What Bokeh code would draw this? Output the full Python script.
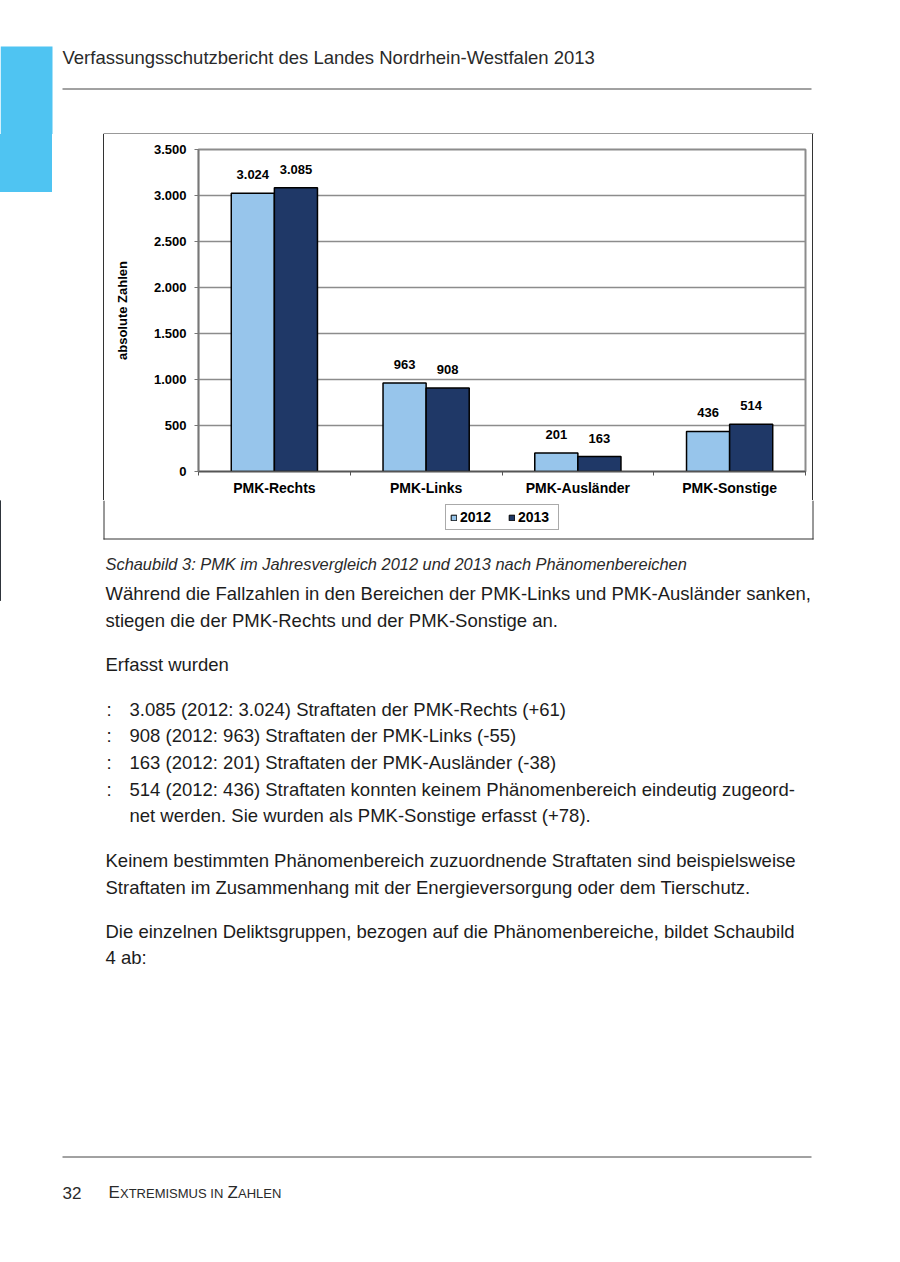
from bokeh.plotting import figure
from bokeh.layouts import column
from bokeh.models import (Range1d, LinearAxis, FixedTicker, ColumnDataSource,
                          LabelSet, Legend, LegendItem)
from bokeh.transform import dodge
from bokeh.core.properties import value
from bokeh.embed import file_html
from bokeh.resources import INLINE

# ---------------- data ----------------
categories = ["PMK-Rechts", "PMK-Links", "PMK-Ausländer", "PMK-Sonstige"]
years = ["2012", "2013"]
values_2012 = [3024, 963, 201, 436]
values_2013 = [3085, 908, 163, 514]
y_ticks = [0, 500, 1000, 1500, 2000, 2500, 3000, 3500]
y_tick_labels = ["0", "500", "1.000", "1.500", "2.000", "2.500", "3.000", "3.500"]
y_axis_title = "absolute Zahlen"

header_text = "Verfassungsschutzbericht des Landes Nordrhein-Westfalen 2013"
caption_text = "Schaubild 3: PMK im Jahresvergleich 2012 und 2013 nach Phänomenbereichen"
body_lines = [
    "Während die Fallzahlen in den Bereichen der PMK-Links und PMK-Ausländer sanken,",
    "stiegen die der PMK-Rechts und der PMK-Sonstige an.",
    "Erfasst wurden",
    "Keinem bestimmten Phänomenbereich zuzuordnende Straftaten sind beispielsweise",
    "Straftaten im Zusammenhang mit der Energieversorgung oder dem Tierschutz.",
    "Die einzelnen Deliktsgruppen, bezogen auf die Phänomenbereiche, bildet Schaubild",
    "4 ab:",
]
body_y = [593, 620, 664, 860, 887, 931, 957]
bullet_marks = [":", ":", ":", ":", ""]
bullet_lines = [
    "3.085 (2012: 3.024) Straftaten der PMK-Rechts (+61)",
    "908 (2012: 963) Straftaten der PMK-Links (-55)",
    "163 (2012: 201) Straftaten der PMK-Ausländer (-38)",
    "514 (2012: 436) Straftaten konnten keinem Phänomenbereich eindeutig zugeord-",
    "net werden. Sie wurden als PMK-Sonstige erfasst (+78).",
]
bullet_y = [709, 735, 762, 789, 815]
page_number = "32"
running_title = [("E", 17), ("XTREMISMUS IN", 13), ("Z", 17), ("AHLEN", 13)]


def de(n):
    return f"{n:,}".replace(",", ".")


# ---------------- page geometry (pixels) ----------------
PW, PH = 900, 1262
BOX_L, BOX_R, BOX_T, BOX_B = 104, 812, 134, 538      # chart border box
FL, FR, FT, FB = 198, 805, 149, 471                  # chart plot area
SPLIT = 500                                          # chart figure ends here
TAB_R, TAB_T, TAB_B = 52, 46, 192                    # blue page tab
LEG_L, LEG_B = 445, 530                              # legend box position

FONT = "Liberation Sans"
C_LIGHT = "#97C5EB"
C_DARK = "#1F3867"
GRID = "#8C8C8C"
TAB = "#4FC4F2"
INK = "#1c1c1c"
EDGE = "#333333"


def no_align(f):
    try:
        f.frame_align = False
    except Exception:
        pass
    return f


def page_fig(x0, x1, y0, y1):
    f = figure(width=x1 - x0, height=y1 - y0, output_backend="svg", toolbar_location=None,
               x_range=Range1d(x0, x1), y_range=Range1d(y1, y0),
               x_axis_location=None, y_axis_location=None, min_border=0,
               background_fill_color="white", border_fill_color="white")
    f.outline_line_color = None
    f.xgrid.visible = False
    f.ygrid.visible = False
    return no_align(f)


def put_text(f, xs, ys, texts, size="18.5px", style="normal", color=INK):
    f.text(x=xs, y=ys, text=texts, text_font=value(FONT), text_font_size=value(size),
           text_font_style=style, text_color=color, text_baseline="middle", text_align="left")


# ---- header strip ----
head = page_fig(0, PW, 0, BOX_T)
head.quad(left=[0], right=[TAB_R], top=[TAB_T], bottom=[BOX_T], fill_color=TAB, line_color=None)
put_text(head, [62], [57], [header_text], color="#2a2a2a")
head.segment(x0=[62], y0=[88.5], x1=[811], y1=[88.5], line_color="#444444", line_width=1)
head.segment(x0=[BOX_L - 1], y0=[BOX_T - 0.5], x1=[BOX_R + 1], y1=[BOX_T - 0.5],
             line_color=EDGE, line_width=1)

# ---- the chart (full page width; its border area shows the page tab and box sides) ----
n = len(categories)
slot = list(range(n))
centers = [i + 0.5 for i in slot]
mid_h = SPLIT - BOX_T

page_bg = {
    "background-color": "white",
    "background-image": f"linear-gradient({TAB},{TAB}), linear-gradient({EDGE},{EDGE}), "
                        f"linear-gradient({EDGE},{EDGE})",
    "background-size": f"{TAB_R}px {TAB_B - BOX_T}px, 1px {mid_h}px, 1px {mid_h}px",
    "background-position": f"0px 0px, {BOX_L - 1}px 0px, {BOX_R}px 0px",
    "background-repeat": "no-repeat",
}

p = figure(width=PW, height=mid_h, output_backend="svg", toolbar_location=None,
           x_range=Range1d(0, n), y_range=Range1d(0, 3500),
           x_axis_location=None, y_axis_location=None,
           min_border_left=FL, min_border_right=PW - FR,
           min_border_top=FT - BOX_T, min_border_bottom=SPLIT - FB,
           background_fill_color="white", border_fill_alpha=0, styles=page_bg)
no_align(p)
p.outline_line_color = GRID
p.outline_line_width = 2
p.xgrid.grid_line_color = None
p.ygrid.ticker = FixedTicker(ticks=y_ticks)
p.ygrid.grid_line_color = GRID
p.ygrid.grid_line_width = 1.5

yaxis = LinearAxis(ticker=FixedTicker(ticks=y_ticks),
                   major_label_overrides=dict(zip(y_ticks, y_tick_labels)),
                   axis_label=y_axis_title)
yaxis.axis_line_color = "#777777"
yaxis.axis_line_width = 1.5
yaxis.major_tick_line_color = "#777777"
yaxis.major_tick_out = 4
yaxis.major_tick_in = 0
yaxis.minor_tick_line_color = None
yaxis.major_label_standoff = 8
yaxis.major_label_text_font = FONT
yaxis.major_label_text_font_style = "bold"
yaxis.major_label_text_font_size = "13px"
yaxis.major_label_text_color = "black"
yaxis.axis_label_text_font = FONT
yaxis.axis_label_text_font_style = "bold"
yaxis.axis_label_text_font_size = "13px"
yaxis.axis_label_text_color = "black"
yaxis.axis_label_standoff = 21
p.add_layout(yaxis, "left")

xaxis = LinearAxis(ticker=FixedTicker(ticks=centers, minor_ticks=slot + [n]),
                   major_label_overrides=dict(zip(centers, categories)))
xaxis.axis_line_color = "#555555"
xaxis.axis_line_width = 1.5
xaxis.major_tick_line_color = None
xaxis.major_tick_out = 0
xaxis.major_tick_in = 0
xaxis.minor_tick_line_color = "#555555"
xaxis.minor_tick_out = 4
xaxis.minor_tick_in = 0
xaxis.major_label_standoff = 4
xaxis.major_label_text_font = FONT
xaxis.major_label_text_font_style = "bold"
xaxis.major_label_text_font_size = "14px"
xaxis.major_label_text_color = "black"
p.add_layout(xaxis, "below")

src = ColumnDataSource(dict(x=centers, cat=categories, v2012=values_2012, v2013=values_2013,
                            l2012=[de(v) for v in values_2012],
                            l2013=[de(v) for v in values_2013]))
BW = 0.284
p.vbar(x=dodge("x", -BW / 2), top="v2012", width=BW, source=src,
       fill_color=C_LIGHT, line_color="black", line_width=1.5)
p.vbar(x=dodge("x", BW / 2), top="v2013", width=BW, source=src,
       fill_color=C_DARK, line_color="black", line_width=1.5)

for off, col in ((-BW / 2, "2012"), (BW / 2, "2013")):
    p.add_layout(LabelSet(x=dodge("x", off), y="v" + col, text="l" + col,
                          source=src, text_align="center", text_baseline="bottom", y_offset=14,
                          text_font=value(FONT), text_font_style="bold",
                          text_font_size="13px", text_color="black"))

# ---- lower part of the chart box, legend and text below the chart ----
body = page_fig(0, PW, SPLIT, PH)
body.segment(x0=[BOX_L - 0.5, BOX_R + 0.5], y0=[SPLIT, SPLIT],
             x1=[BOX_L - 0.5, BOX_R + 0.5], y1=[BOX_B + 1, BOX_B + 1],
             line_color=EDGE, line_width=1)
body.segment(x0=[BOX_L - 1], y0=[BOX_B + 0.5], x1=[BOX_R + 1], y1=[BOX_B + 0.5],
             line_color=EDGE, line_width=1)

# legend keys: one off-page sample each, only used to draw the legend swatches
key1 = body.vbar(x=[-100], top=[600], width=1, fill_color=C_LIGHT, line_color="black",
                 line_width=1)
key2 = body.vbar(x=[-100], top=[600], width=1, fill_color=C_DARK, line_color="black",
                 line_width=1)
legend = Legend(items=[LegendItem(label=years[0], renderers=[key1]),
                       LegendItem(label=years[1], renderers=[key2])],
                location=(LEG_L, PH - LEG_B), orientation="horizontal",
                glyph_width=7, glyph_height=7, label_standoff=3, spacing=12,
                padding=4, margin=0, label_height=14, label_width=36,
                label_text_font=FONT, label_text_font_style="bold",
                label_text_font_size="14px", label_text_color="black",
                border_line_color="#555555", border_line_width=1,
                background_fill_color="white", background_fill_alpha=1)
body.add_layout(legend, "center")

put_text(body, [105], [563], [caption_text], size="16.4px", style="italic", color="#2a2a2a")
put_text(body, [105] * len(body_lines), body_y, body_lines)
marks = [(y, m) for y, m in zip(bullet_y, bullet_marks) if m]
put_text(body, [106] * len(marks), [y for y, _ in marks], [m for _, m in marks])
put_text(body, [129] * len(bullet_lines), bullet_y, bullet_lines)

body.segment(x0=[62], y0=[1156.5], x1=[811], y1=[1156.5], line_color="#444444", line_width=1)
put_text(body, [62], [1192], [page_number], size="17px", color="#2a2a2a")
rt_x = [108, 119.5, 227, 237.5]
for (s, sz), x in zip(running_title, rt_x):
    put_text(body, [x], [1192 if sz > 15 else 1193], [s], size=f"{sz}px", color="#2a2a2a")

page = column(head, p, body)
open("out.html", "w").write(file_html(page, INLINE))
